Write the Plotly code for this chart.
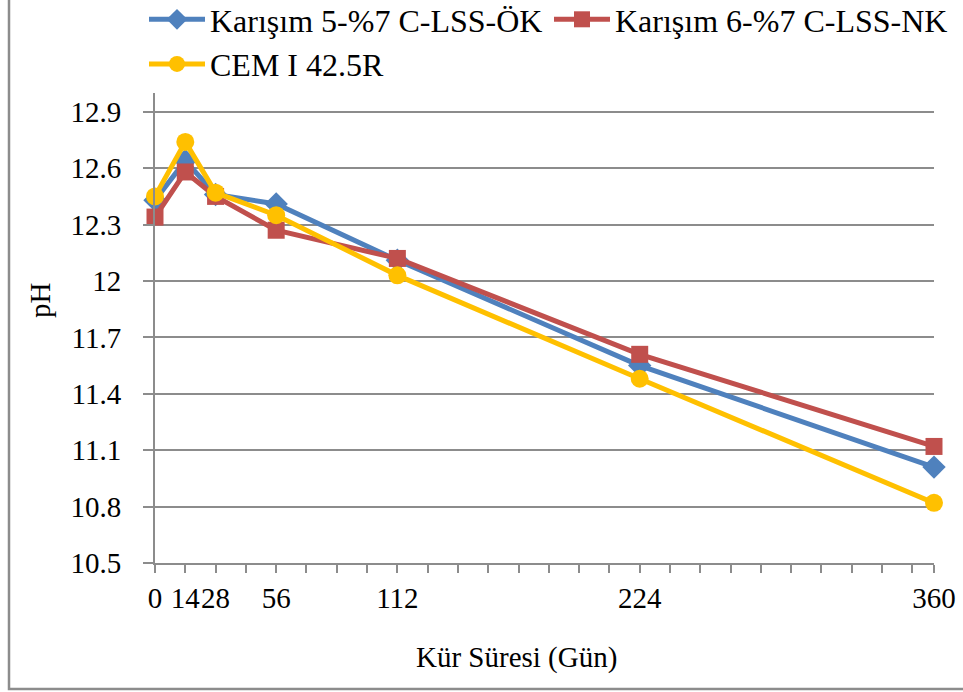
import plotly.graph_objects as go

days = [0, 14, 28, 56, 112, 224, 360]
tick_labels = ["0", "14", "28", "56", "112", "224", "360"]
names = ["Karışım 5-%7 C-LSS-ÖK", "Karışım 6-%7 C-LSS-NK", "CEM I 42.5R"]
ph_mix5 = [12.43, 12.64, 12.46, 12.41, 12.11, 11.55, 11.01]
ph_mix6 = [12.34, 12.58, 12.45, 12.27, 12.12, 11.61, 11.12]
ph_cem = [12.45, 12.74, 12.47, 12.35, 12.03, 11.48, 10.82]

colors = ["#4F81BD", "#C0504D", "#FFC000"]
symbols = ["diamond", "square", "circle"]
sizes = [18, 17, 18]

W, H = 963, 692
L, R, T, B = 155, 29, 93, 129
pw, ph = W - L - R, H - T - B

fig = go.Figure()
for name, vals, c, s, sz in zip(names, [ph_mix5, ph_mix6, ph_cem], colors, symbols, sizes):
    fig.add_trace(go.Scatter(
        x=days, y=vals, name=name, mode="lines+markers",
        line=dict(color=c, width=5),
        marker=dict(symbol=s, size=sz, color=c),
        cliponaxis=False,
    ))

font = "Liberation Serif"
grid = "#8C8C8C"

fig.update_layout(
    width=W, height=H,
    margin=dict(l=L, r=R, t=T, b=B, autoexpand=False),
    paper_bgcolor="white", plot_bgcolor="white",
    font=dict(family=font, size=28, color="black"),
    showlegend=True,
    legend=dict(
        orientation="h", xref="paper", yref="paper",
        x=(144 - L) / pw, xanchor="left", y=1 + (T + 8) / ph, yanchor="top",
        font=dict(family=font, size=32, color="black"),
        itemwidth=56, entrywidth=334, entrywidthmode="pixels",
        bgcolor="rgba(0,0,0,0)", tracegroupgap=0,
    ),
    xaxis=dict(
        range=[0, 360], tickmode="array", tickvals=days, ticktext=tick_labels,
        tickangle=0, ticks="outside", ticklen=8, tickcolor=grid, tickwidth=1.5,
        minor=dict(dtick=14, tick0=0, ticks="outside", ticklen=8, tickcolor=grid, tickwidth=1.5, showgrid=False),
        showgrid=False, zeroline=False, showline=True, linecolor=grid, linewidth=2,
        tickfont=dict(family=font, size=29),
    ),
    yaxis=dict(
        range=[10.5, 13.0], tick0=10.5, dtick=0.3, tickformat="~g",
        ticks="outside", ticklen=10, tickcolor=grid, tickwidth=1.5,
        ticklabelstandoff=16,
        showgrid=True, gridcolor=grid, gridwidth=1.5,
        zeroline=False, showline=True, linecolor=grid, linewidth=2,
        tickfont=dict(family=font, size=29),
    ),
    annotations=[
        dict(text="Kür Süresi (Gün)", xref="paper", yref="paper",
             x=(516 - L) / pw, y=-(657 - T - ph) / ph, xanchor="center", yanchor="middle",
             showarrow=False, font=dict(family=font, size=29)),
        dict(text="pH", xref="paper", yref="paper", textangle=-90,
             x=(40 - L) / pw, y=1 - (300 - T) / ph, xanchor="center", yanchor="middle",
             showarrow=False, font=dict(family=font, size=29)),
    ],
    shapes=[
        dict(type="rect", xref="paper", yref="paper",
             x0=(9 - L) / pw, x1=(990 - L) / pw,
             y0=-(689 - T - ph) / ph, y1=1 + (T + 20) / ph,
             line=dict(color="#8C8C8C", width=2.5), fillcolor="rgba(0,0,0,0)", layer="below"),
    ],
)

fig.write_html("out.html")
